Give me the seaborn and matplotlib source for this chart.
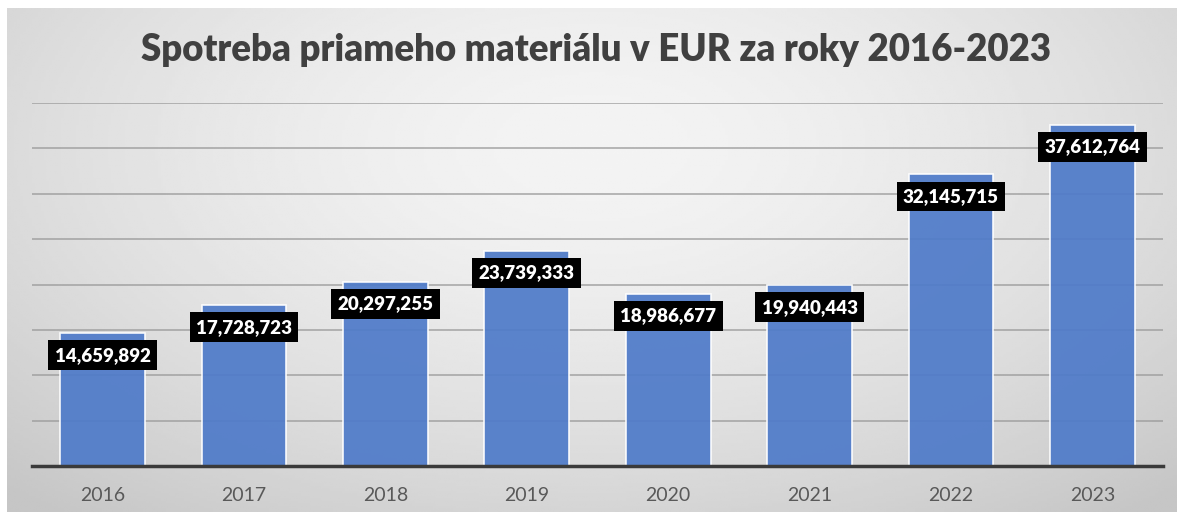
import numpy as np
import pandas as pd
import seaborn as sns
import matplotlib.pyplot as plt

# data
years = ['2016', '2017', '2018', '2019', '2020', '2021', '2022', '2023']
values = [14659892, 17728723, 20297255, 23739333, 18986677, 19940443, 32145715, 37612764]
title = 'Spotreba priameho materiálu v EUR za roky 2016-2023'

df = pd.DataFrame({'rok': years, 'hodnota': values})

sns.set_theme(style='white')
plt.rcParams['font.family'] = ['Lato', 'DejaVu Sans']

fig = plt.figure(figsize=(11.77, 5.12), dpi=100)
fig.patch.set_facecolor('white')

# sivy gradient v pozadi
bg = fig.add_axes([7 / 1177, 0, 1 - 7 / 1177, 1 - 8 / 512])
gx, gy = np.meshgrid(np.linspace(-1, 1, 400), np.linspace(-1, 1, 200))
r = np.sqrt((gx * 0.95) ** 2 + ((gy + 0.45) * 0.75) ** 2)
shade = 0.955 - 0.18 * np.clip(r, 0, 1.4) ** 1.6 / 1.4 ** 1.6
bg.imshow(shade, cmap='gray', vmin=0, vmax=1, aspect='auto', origin='upper',
          extent=[0, 1, 0, 1])
bg.set_axis_off()

ax = fig.add_axes([32 / 1177, 46 / 512, 1131 / 1177, 363 / 512])
ax.patch.set_alpha(0)

sns.barplot(data=df, x='rok', y='hodnota', color='#4f7bc9', width=0.6,
            alpha=0.93, edgecolor='white', linewidth=1.2, saturation=1, ax=ax, zorder=3)

ax.set_ylim(0, 40_000_000)
ax.set_xlim(-0.5, len(years) - 0.5)
ax.set_yticks(np.arange(5_000_000, 40_000_001, 5_000_000))
ax.yaxis.grid(True, color='#9a9a9a', linewidth=1.3, alpha=0.75, zorder=0)
ax.set_axisbelow(True)
ax.tick_params(axis='y', left=False, labelleft=False)
ax.tick_params(axis='x', bottom=False, labelsize=14, labelcolor='#595959', pad=9)
ax.set_xlabel('')
ax.set_ylabel('')
for s in ['top', 'left', 'right']:
    ax.spines[s].set_visible(False)
ax.spines['bottom'].set_color('#3a3a3a')
ax.spines['bottom'].set_linewidth(2.5)
ax.spines['bottom'].set_zorder(5)

# popisky hodnot
for i, v in enumerate(values):
    ax.annotate(f'{v:,}', xy=(i, v), xytext=(0, -16), textcoords='offset points',
                ha='center', va='center', fontsize=13.5, fontweight='heavy', color='white',
                bbox=dict(boxstyle='square,pad=0.34', fc='black', ec='none'), zorder=6)

fig.text(596 / 1177, 1 - 50 / 512, title, ha='center', va='center', fontsize=26.4,
         fontweight='heavy', color='#404040')

fig.savefig('out.png', dpi=100)
